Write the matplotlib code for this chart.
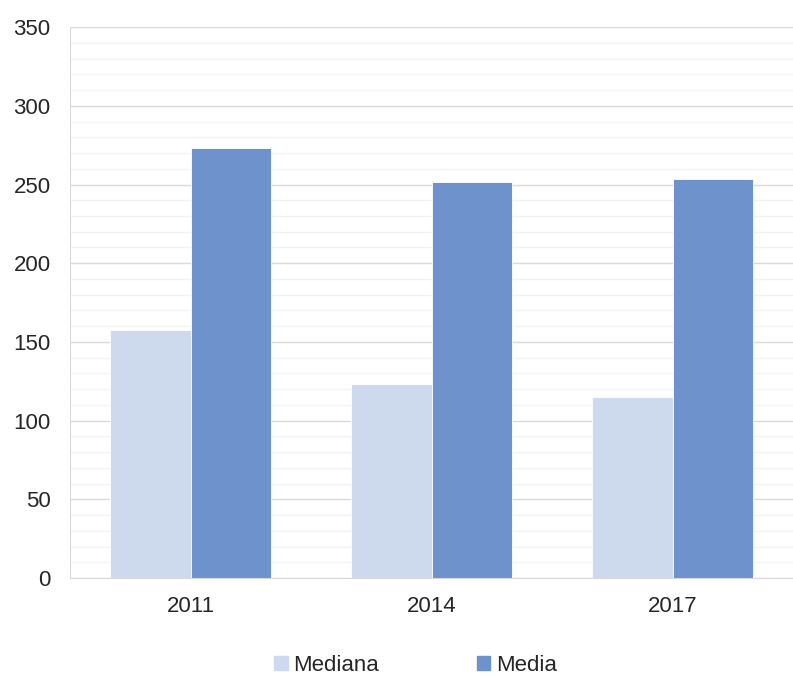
import numpy as np
import matplotlib.pyplot as plt
from matplotlib.patches import Patch

years = ["2011", "2014", "2017"]
mediana = [157.5, 123.5, 115.0]
media = [273.0, 251.5, 253.5]

plt.rcParams['font.family'] = ['Liberation Sans', 'DejaVu Sans']

fig = plt.figure(figsize=(7.93, 6.78), dpi=100)
ax = fig.add_axes([0.0883, 0.1475, 0.912, 0.8125])

x = np.arange(len(years))
w = 0.335
c_med = "#cddaee"
c_mean = "#6e92cb"
ax.bar(x - w/2, mediana, w, color=c_med, edgecolor="white", linewidth=0.6, zorder=3)
ax.bar(x + w/2, media, w, color=c_mean, edgecolor="white", linewidth=0.6, zorder=3)

ax.set_xlim(-0.5, 2.5)
ax.set_ylim(0, 350)
ax.set_yticks(np.arange(0, 351, 50))
ax.set_yticks(np.arange(0, 351, 10), minor=True)
ax.set_xticks(x)
ax.set_xticklabels(years)
ax.grid(axis="y", which="major", color="#d9d9d9", linewidth=1.0, zorder=0)
ax.grid(axis="y", which="minor", color="#f2f2f2", linewidth=1.0, zorder=0)
ax.tick_params(axis="both", which="both", length=0, labelsize=16, colors="#262626")
ax.tick_params(axis="y", pad=14)
ax.tick_params(axis="x", pad=13)

for s in ["top", "right"]:
    ax.spines[s].set_visible(False)
for s in ["left", "bottom"]:
    ax.spines[s].set_color("#d9d9d9")

handles = [Patch(color=c_med, label="Mediana"), Patch(color=c_mean, label="Media")]
fig.legend(handles=handles, loc="center", bbox_to_anchor=(0.524, 0.019), ncol=2,
           frameon=False, fontsize=16, handlelength=0.6, handleheight=0.6,
           handletextpad=0.25, columnspacing=4.4, labelcolor="#262626")

fig.savefig("out.png", dpi=100)
